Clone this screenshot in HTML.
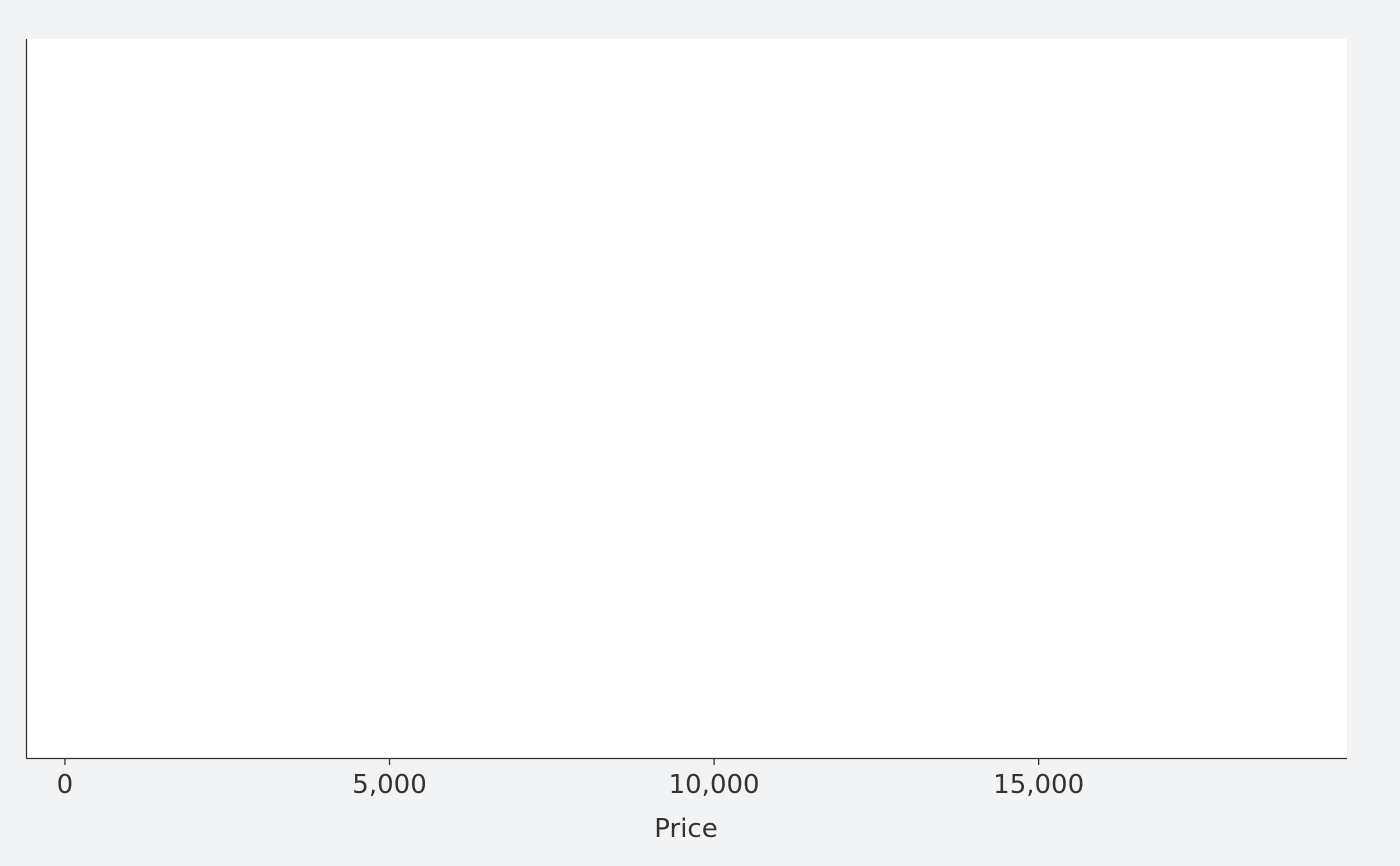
<!DOCTYPE html>
<html><head><meta charset="utf-8"><style>
html,body{margin:0;padding:0;background:#f2f3f5;}
svg{display:block;font-family:"DejaVu Sans","Liberation Sans",sans-serif;}
</style></head><body>
<svg id="chart" width="1400" height="866">
<rect x="26" y="39" width="1321" height="719" fill="#ffffff"/>
<line x1="26.5" y1="39" x2="26.5" y2="758" stroke="#333" stroke-width="1.3"/>
<line x1="26" y1="758.5" x2="1347" y2="758.5" stroke="#333" stroke-width="1.3"/>
<g id="xticks"></g>
<text x="686" y="837" text-anchor="middle" font-size="26" fill="#333">Price</text>
</svg>
<script>
const tickValues = [0, 5000, 10000, 15000];
const tickLabels = ["0", "5,000", "10,000", "15,000"];
const xDomain = [-600, 19750];
const xRange = [26, 1347];
function x(v){return xRange[0] + (v - xDomain[0]) / (xDomain[1] - xDomain[0]) * (xRange[1] - xRange[0]);}
const g = document.getElementById('xticks');
const NS = 'http://www.w3.org/2000/svg';
tickValues.forEach((v, i) => {
  const px = x(v);
  const t = document.createElementNS(NS, 'line');
  t.setAttribute('x1', px); t.setAttribute('x2', px);
  t.setAttribute('y1', 759); t.setAttribute('y2', 765);
  t.setAttribute('stroke', '#333'); t.setAttribute('stroke-width', '1.3');
  
  
  g.appendChild(t);
  const tx = document.createElementNS(NS, 'text');
  tx.setAttribute('x', px); tx.setAttribute('y', 793);
  tx.setAttribute('text-anchor', 'middle');
  tx.setAttribute('font-size', '26'); tx.setAttribute('fill', '#333');
  tx.textContent = tickLabels[i];
  
  
  g.appendChild(tx);
});
</script>
</body></html>
